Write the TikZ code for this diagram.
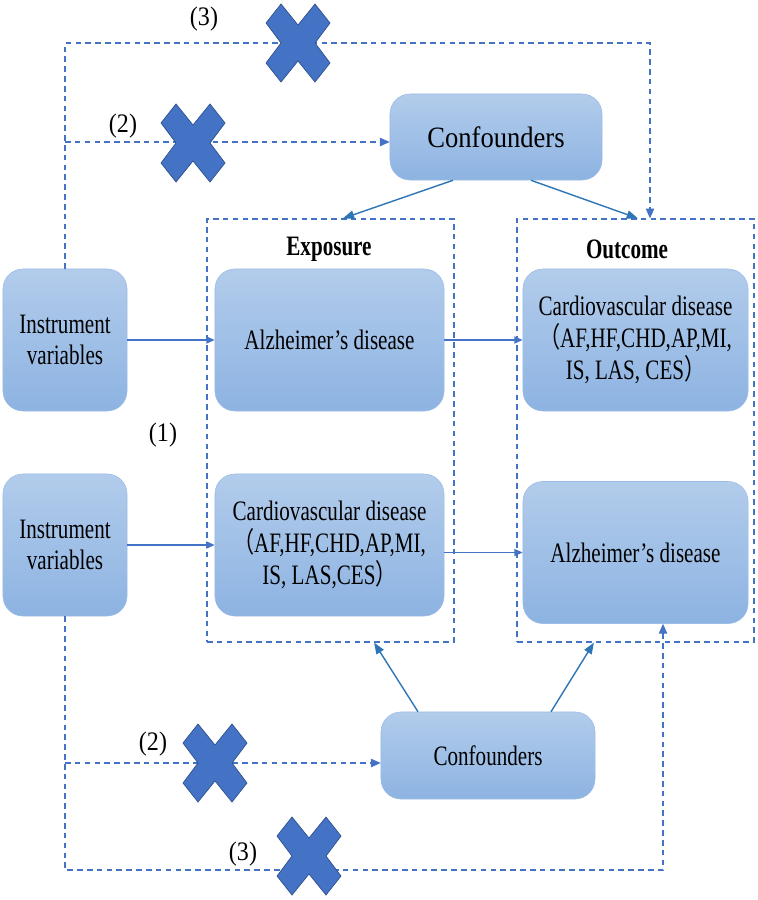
\documentclass[tikz,border=0pt]{standalone}
\usepackage{fontspec}
\setmainfont{Liberation Serif}[FakeStretch=0.75]
\newfontfamily\wideserif{Liberation Serif}[FakeStretch=0.9]
\newfontfamily\cjk{Noto Sans CJK SC}[FakeStretch=0.75]
\usetikzlibrary{arrows.meta}

\definecolor{boxtop}{HTML}{B2CCEB}
\definecolor{boxbottom}{HTML}{8DB3E2}
\definecolor{boxline}{HTML}{9CBCE5}
\definecolor{dashblue}{HTML}{4472C4}
\definecolor{arrowblue}{HTML}{2E75B6}
\definecolor{crossline}{HTML}{2F528F}

\tikzset{
    blaubox/.style={rectangle, rounded corners=0.5cm, draw=boxline, line width=0.4pt,
        top color=boxtop, bottom color=boxbottom, align=center,
        font=\fontsize{20}{22.5}\selectfont, inner sep=2pt},
    rahmen/.style={rectangle, draw=dashblue, line width=0.8pt, dash pattern=on 4pt off 3pt},
    dashpfeil/.style={draw=dashblue, line width=0.8pt, dash pattern=on 4pt off 3pt, -{Triangle[length=7pt,width=6pt]}},
    vollpfeil/.style={draw=dashblue, line width=1.2pt, -{Triangle[length=6pt,width=5pt]}},
    confpfeil/.style={draw=arrowblue, line width=1pt, -{Triangle[length=8pt,width=6pt]}},
    beschriftung/.style={font=\wideserif\fontsize{19}{22}\selectfont, inner sep=0pt},
    nocross/.pic={
        \filldraw[fill=dashblue, draw=crossline, line width=0.5pt]
            (-32,-20) -- (-17,-39) -- (0,-18) -- (17,-39) -- (32,-20) -- (17,0)
            -- (32,20) -- (17,39) -- (0,18) -- (-17,39) -- (-32,20) -- (-17,0) -- cycle;
    }
}

\begin{document}
\begin{tikzpicture}[x=0.025cm, y=-0.025cm]

    \useasboundingbox (0,0) rectangle (757,900);

    % Rahmen
    \node [rahmen, minimum width=6.175cm, minimum height=10.575cm] (expframe) at (330.5,430.5) {};
    \node [rahmen, minimum width=5.925cm, minimum height=10.575cm] (outframe) at (635.5,430.5) {};
    \node [font=\fontsize{20}{22}\selectfont\bfseries] (explabel) at (329,249) {Exposure};
    \node [font=\fontsize{20}{22}\selectfont\bfseries] (outlabel) at (627,249) {Outcome};

    % Boxen
    \node [blaubox, font=\wideserif\fontsize{21}{25}\selectfont, minimum width=5.3cm, minimum height=2.15cm] (conftop) at (496,137) {Confounders};
    \node [blaubox, minimum width=3.1cm, minimum height=3.55cm] (iv1) at (65,340) {Instrument\\variables};
    \node [blaubox, minimum width=3.1cm, minimum height=3.55cm] (iv2) at (65,545) {Instrument\\variables};
    \node [blaubox, minimum width=5.725cm, minimum height=3.55cm] (alzexp) at (329.5,340) {Alzheimer’s disease};
    \node [blaubox, minimum width=5.725cm, minimum height=3.55cm] (cvdexp) at (329.5,545) {Cardiovascular disease\\{\cjk （}AF,HF,CHD,AP,MI,\\IS, LAS,CES{\cjk ）}};
    \node [blaubox, minimum width=5.625cm, minimum height=3.55cm] (cvdout) at (635.5,340) {Cardiovascular disease\\{\cjk （}AF,HF,CHD,AP,MI,\\IS, LAS, CES{\cjk ）}};
    \node [blaubox, minimum width=5.625cm, minimum height=3.55cm] (alzout) at (635.5,552.5) {Alzheimer’s disease};
    \node [blaubox, minimum width=5.35cm, minimum height=2.175cm] (confbot) at (488,755.5) {Confounders};

    % Beschriftungen
    \node [beschriftung] (l3oben) at (204,19) {(3)};
    \node [beschriftung] (l2oben) at (123,126) {(2)};
    \node [beschriftung] (l1) at (163,435) {(1)};
    \node [beschriftung] (l2unten) at (153,744) {(2)};
    \node [beschriftung] (l3unten) at (243,854) {(3)};

    % Hilfspunkte
    \coordinate (knick3oben) at (650,43);
    \coordinate (abzweig2oben) at (65,142);
    \coordinate (knick3unten) at (663,870);
    \coordinate (abzweig2unten) at (65,763);

    % gestrichelte Wege
    \draw [dashpfeil] (iv1.north) |- (knick3oben) -- (knick3oben |- outframe.north);
    \draw [dashpfeil] (abzweig2oben) -- (abzweig2oben -| conftop.west);
    \draw [dashpfeil] (iv2.south) |- (knick3unten) -- (knick3unten |- alzout.south);
    \draw [dashpfeil] (abzweig2unten) -- (abzweig2unten -| confbot.west);

    % durchgezogene Pfeile
    \draw [vollpfeil] (iv1) -- (alzexp);
    \draw [vollpfeil] (alzexp) -- (cvdout);
    \draw [vollpfeil] (iv2) -- (cvdexp);
    \draw [vollpfeil] (alzout.west -| cvdexp.east) -- (alzout.west);
    \draw [confpfeil] ([xshift=-1.075cm]conftop.south) -- ([xshift=0.31cm]expframe.north);
    \draw [confpfeil] ([xshift=0.875cm]conftop.south) -- ([xshift=0.06cm]outframe.north);
    \draw [confpfeil] ([xshift=-1.75cm]confbot.north) -- ([xshift=1.09cm]expframe.south);
    \draw [confpfeil] ([xshift=1.575cm]confbot.north) -- ([xshift=-1.04cm]outframe.south);

    % Kreuze
    \foreach \kx/\ky in {298/43, 193/143, 215/763, 309/856}
        \pic at (\kx,\ky) {nocross};

\end{tikzpicture}
\end{document}
